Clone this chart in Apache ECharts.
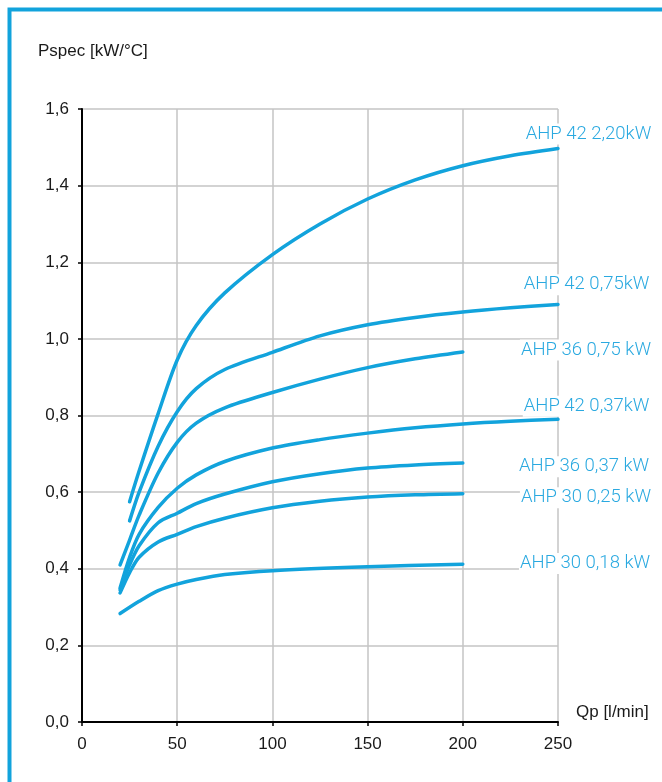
<!DOCTYPE html>
<html><head><meta charset="utf-8">
<script src="https://cdn.jsdelivr.net/npm/echarts@6/dist/echarts.min.js"></script>
<style>html,body{margin:0;padding:0;background:#fff}#c{width:662px;height:782px}</style>
</head><body><div id="c"></div>
<script>
// ---- data ----
const xTicks = [0, 50, 100, 150, 200, 250];
const yTicks = [0, 0.2, 0.4, 0.6, 0.8, 1.0, 1.2, 1.4, 1.6];
const seriesNames = ['AHP 42 2,20kW', 'AHP 42 0,75kW', 'AHP 36 0,75 kW', 'AHP 42 0,37kW', 'AHP 36 0,37 kW', 'AHP 30 0,25 kW', 'AHP 30 0,18 kW'];
const ahp42_220 = [[25,0.575],[30,0.655],[40,0.805],[50,0.945],[60,1.035],[75,1.12],[100,1.22],[125,1.3],[150,1.365],[175,1.415],[200,1.452],[225,1.478],[250,1.497]];
const ahp42_075 = [[25,0.525],[30,0.6],[40,0.72],[50,0.81],[60,0.87],[75,0.92],[100,0.965],[125,1.008],[150,1.037],[175,1.056],[200,1.07],[225,1.081],[250,1.09]];
const ahp36_075 = [[20,0.41],[25,0.475],[30,0.54],[40,0.65],[50,0.73],[60,0.78],[75,0.82],[100,0.86],[125,0.895],[150,0.925],[175,0.948],[200,0.966]];
const ahp42_037 = [[20,0.35],[25,0.43],[30,0.49],[40,0.56],[50,0.61],[60,0.645],[75,0.68],[100,0.715],[125,0.737],[150,0.754],[175,0.768],[200,0.778],[225,0.785],[250,0.79]];
const ahp36_037 = [[20,0.345],[25,0.41],[30,0.46],[40,0.52],[50,0.545],[60,0.57],[75,0.595],[100,0.627],[125,0.648],[150,0.663],[175,0.671],[200,0.676]];
const ahp30_025 = [[20,0.337],[25,0.39],[30,0.43],[40,0.47],[50,0.49],[60,0.51],[75,0.532],[100,0.559],[125,0.576],[150,0.587],[175,0.593],[200,0.596]];
const ahp30_018 = [[20,0.283],[30,0.315],[40,0.343],[50,0.36],[60,0.372],[75,0.385],[100,0.395],[150,0.405],[200,0.412]];
const seriesData = [ahp42_220, ahp42_075, ahp36_075, ahp42_037, ahp36_037, ahp30_025, ahp30_018];
// label anchors (data units: left edge x, vertical centre y)
const labelX = [232.5, 231.5, 230, 231.5, 229, 230, 229.5];
const labelY = [1.535, 1.141, 0.971, 0.824, 0.666, 0.585, 0.414];
const xName = 'Qp [l/min]';
const yName = 'Pspec [kW/°C]';

// ---- chart ----
const BLUE = '#12a3dc';
const LBLUE = '#2aa9e0';
const FONT = '"Liberation Sans", Arial';
const chart = echarts.init(document.getElementById('c'), null, {renderer: 'canvas'});
const fmt = v => v.toFixed(1).replace('.', ',');
chart.setOption({
  animation: false,
  backgroundColor: '#fff',
  grid: {left: 82, right: 104, top: 109, bottom: 60},
  xAxis: {
    type: 'value', min: xTicks[0], max: xTicks[xTicks.length - 1], interval: 50,
    axisLine: {lineStyle: {color: '#000', width: 2}},
    axisTick: {show: true, length: 4, lineStyle: {color: '#000', width: 1.5}},
    axisLabel: {color: '#1a1a1a', fontSize: 17, fontFamily: FONT, margin: 14},
    splitLine: {show: true, lineStyle: {color: '#c4c4c4', width: 1.5}},
    name: xName, nameLocation: 'end', nameGap: 18,
    nameTextStyle: {color: '#1a1a1a', fontSize: 17, fontFamily: FONT, align: 'left', verticalAlign: 'bottom', padding: [0, 0, 1, 0]}
  },
  yAxis: {
    type: 'value', min: yTicks[0], max: yTicks[yTicks.length - 1], interval: 0.2,
    axisLine: {show: true, lineStyle: {color: '#000', width: 2}},
    axisTick: {show: true, length: 4, lineStyle: {color: '#000', width: 1.5}},
    axisLabel: {color: '#1a1a1a', fontSize: 17, fontFamily: FONT, margin: 13, formatter: fmt},
    splitLine: {show: true, lineStyle: {color: '#c4c4c4', width: 1.5}}
  },
  series: seriesData.map((d, i) => ({
    name: seriesNames[i], type: 'line', data: d, showSymbol: false, symbol: 'none',
    smooth: 0.3,
    lineStyle: {color: BLUE, width: 3.5, cap: 'round'}, z: 3
  }))
});

const texts = seriesNames.map((n, i) => {
  const p = chart.convertToPixel({xAxisIndex: 0, yAxisIndex: 0}, [labelX[i], labelY[i]]);
  return {
    type: 'text', x: p[0], y: p[1], z: 10,
    style: {text: n, fill: LBLUE, font: '300 18.5px Roboto, "Noto Sans", sans-serif',
      verticalAlign: 'middle', backgroundColor: '#fff', padding: [1, 1]}
  };
});
chart.setOption({
  graphic: [
    {type: 'rect', left: 7, top: 7, shape: {width: 720, height: 820},
     style: {fill: 'none', stroke: '#12a3dc', lineWidth: 4}, z: 20, silent: true},
    {type: 'text', left: 38, top: 43, style: {text: yName, fill: '#1a1a1a', font: '17px "Liberation Sans", Arial'}}
  ].concat(texts)
});
</script></body></html>
